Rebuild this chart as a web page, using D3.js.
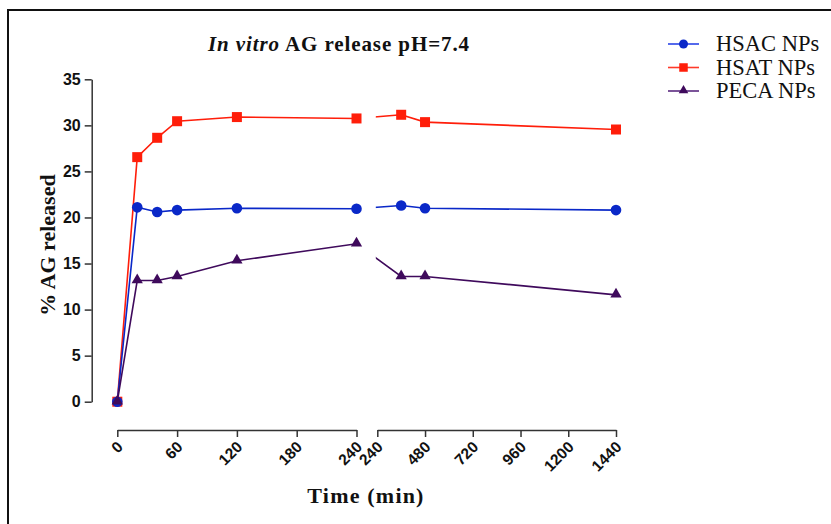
<!DOCTYPE html>
<html>
<head>
<meta charset="utf-8">
<script src="https://cdn.jsdelivr.net/npm/d3@7"></script>
<style>
  body { margin: 0; background: #fff; }
  svg { display: block; }
</style>
</head>
<body>
<div id="chart"></div>
<script>
(function(){

    // data
    var times = [0, 20, 40, 60, 120, 240, 360, 480, 1440];
    var hsac = [0, 21.1, 20.6, 20.8, 21.0, 20.95, 21.3, 21.0, 20.8];
    var hsat = [0, 26.55, 28.65, 30.45, 30.9, 30.75, 31.15, 30.35, 29.55];
    var peca = [0, 13.15, 13.15, 13.6, 15.3, 17.15, 13.6, 13.6, 11.6];
    var seriesNames = ["HSAC NPs", "HSAT NPs", "PECA NPs"];
    var seriesColors = ["#0a28c8", "#ff1e0a", "#3f0a5c"];
    var legendLineColors = ["#2a44e8", "#ff3a2a", "#5a2a80"];
    var yTicks = [0, 5, 10, 15, 20, 25, 30, 35];
    var xTicksLeft = [0, 60, 120, 180, 240];
    var xTicksRight = [240, 480, 720, 960, 1200, 1440];

    var W = 831, H = 524;
    var svg = d3.select("#chart").append("svg").attr("width", W).attr("height", H);

    // frame
    svg.append("path").attr("d", "M8,524 V10 H831")
        .attr("fill", "none").attr("stroke", "#111").attr("stroke-width", 2);

    var y = d3.scaleLinear().domain([0, 35]).range([401.7, 79.3]);
    var xA = d3.scaleLinear().domain([0, 240]).range([117.3, 356.5]);
    var xB = d3.scaleLinear().domain([240, 1440]).range([377.3, 616]);
    function xPos(t) {
        // the 240 point belongs to the first segment
        return t <= 240 ? xA(t) : xB(t);
    }

    var axisColor = "#333";
    var sans = "'Liberation Sans', Arial, sans-serif";
    var serif = "'Liberation Serif', 'Times New Roman', serif";

    // y axis
    var yAxis = svg.append("g").attr("transform", "translate(91.7,0)")
        .call(d3.axisLeft(y).tickValues(yTicks).tickFormat(d3.format("d"))
            .tickSize(7).tickPadding(4).tickSizeOuter(0));
    yAxis.attr("font-family", sans).attr("font-size", 16).attr("font-weight", "bold");
    yAxis.select(".domain").attr("stroke", axisColor).attr("stroke-width", 1.5);
    yAxis.selectAll(".tick line").attr("stroke", axisColor).attr("stroke-width", 1.5);
    yAxis.selectAll("text").attr("fill", "#111");

    // x axis, two segments
    function xSeg(scale, vals) {
        var g = svg.append("g").attr("transform", "translate(0,430)")
            .call(d3.axisBottom(scale).tickValues(vals).tickFormat(d3.format("d"))
                .tickSize(7).tickSizeOuter(0));
        g.attr("font-family", sans).attr("font-size", 15.5).attr("font-weight", "bold");
        g.select(".domain").attr("stroke", axisColor).attr("stroke-width", 1.5);
        g.selectAll(".tick line").attr("stroke", axisColor).attr("stroke-width", 1.5);
        g.selectAll("text")
            .attr("fill", "#111")
            .attr("text-anchor", "end")
            .attr("dy", null).attr("y", 0)
            .attr("transform", "translate(6,18) rotate(-45)");
        return g;
    }
    xSeg(xA, xTicksLeft);
    xSeg(xB, xTicksRight);

    // clip to hide the lines in the axis break
    var defs = svg.append("defs");
    var clip = defs.append("clipPath").attr("id", "gapClip");
    clip.append("rect").attr("x", 0).attr("y", 0).attr("width", xA(240)).attr("height", H);
    clip.append("rect").attr("x", xB(240) - 1.5).attr("y", 0).attr("width", W).attr("height", H);

    var allSeries = [hsac, hsat, peca];
    var line = d3.line()
        .x(function(d){ return xPos(d.t); })
        .y(function(d){ return y(d.v); });

    // red square sits under the triangle at 0
    var order = [1, 0, 2];
    order.forEach(function(si){
        var pts = times.map(function(t, i){ return { t: t, v: allSeries[si][i] }; });
        svg.append("path").datum(pts)
            .attr("d", line)
            .attr("fill", "none")
            .attr("stroke", seriesColors[si])
            .attr("stroke-width", 1.6)
            .attr("clip-path", "url(#gapClip)");
    });

    function drawMarker(g, si, cx, cy, s) {
        if (si === 0) {
            g.append("circle").attr("cx", cx).attr("cy", cy).attr("r", 5.3 * s)
                .attr("fill", seriesColors[0]);
        } else if (si === 1) {
            var a = 10 * s;
            g.append("rect").attr("x", cx - a / 2).attr("y", cy - a / 2)
                .attr("width", a).attr("height", a).attr("fill", seriesColors[1]);
        } else {
            g.append("path")
                .attr("d", d3.symbol().type(d3.symbolTriangle).size(55 * s * s)())
                .attr("transform", "translate(" + cx + "," + (cy - 0.5) + ")")
                .attr("fill", seriesColors[2]);
        }
    }

    var marks = svg.append("g");
    order.forEach(function(si){
        times.forEach(function(t, i){
            drawMarker(marks, si, xPos(t), y(allSeries[si][i]), 1);
        });
    });

    // title
    var title = svg.append("text").attr("x", 339).attr("y", 51)
        .attr("text-anchor", "middle")
        .attr("font-family", serif).attr("font-size", 21).attr("font-weight", "bold")
        .attr("letter-spacing", 0.9)
        .attr("fill", "#111");
    title.append("tspan").attr("font-style", "italic").attr("font-weight", "bold").text("In vitro");
    title.append("tspan").attr("font-weight", "bold").text(" AG release pH=7.4");

    // axis titles
    svg.append("text")
        .attr("transform", "translate(55,245) rotate(-90)")
        .attr("text-anchor", "middle")
        .attr("font-family", serif).attr("font-size", 22).attr("font-weight", "bold")
        .attr("fill", "#111")
        .text("% AG released");

    svg.append("text").attr("x", 366).attr("y", 503)
        .attr("text-anchor", "middle")
        .attr("font-family", serif).attr("font-size", 22).attr("font-weight", "bold")
        .attr("letter-spacing", 1.2)
        .attr("fill", "#111")
        .text("Time (min)");

    // legend
    var legend = svg.append("g");
    seriesNames.forEach(function(name, i){
        var ly = 44 + i * 23.5;
        legend.append("line").attr("x1", 668).attr("x2", 699).attr("y1", ly).attr("y2", ly)
            .attr("stroke", legendLineColors[i]).attr("stroke-width", 1.6);
        drawMarker(legend, i, 683.5, ly, 0.85);
        legend.append("text").attr("x", 716).attr("y", ly + 7)
            .attr("font-family", serif).attr("font-size", 22.5)
            .attr("fill", "#111")
            .text(name);
    });

})();
</script>
</body>
</html>
